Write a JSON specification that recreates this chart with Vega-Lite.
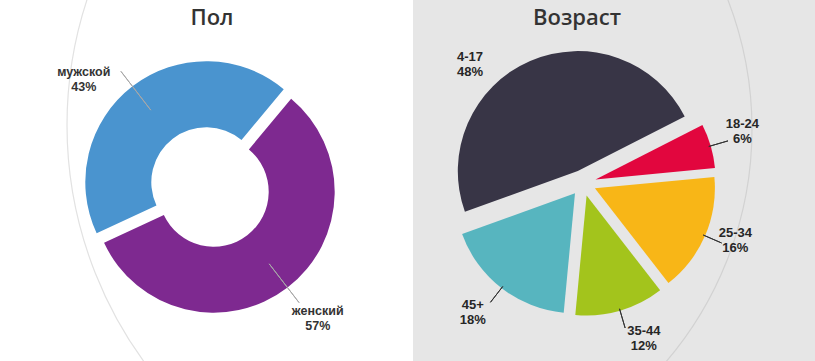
{
  "$schema": "https://vega.github.io/schema/vega-lite/v6.json",
  "background": "#ffffff",
  "padding": 0,
  "spacing": 0,
  "config": {"view": {"stroke": null}, "concat": {"spacing": 0}},
  "hconcat": [
    {
      "width": 413,
      "height": 361,
      "title": {"text": "Пол", "frame": "group", "anchor": "middle", "offset": -30, "dx": 5.5, "fontSize": 22, "font": "Open Sans", "fontWeight": 600, "color": "#333333"},
      "data": {"values": [
        {"group": "мужской", "value": 43, "ord": 1},
        {"group": "женский", "value": 57, "ord": 2}
      ]},
      "transform": [
        {"stack": "value", "groupby": [], "sort": [{"field": "ord"}], "as": ["v0", "v1"]},
        {"calculate": "(datum.v0 + datum.v1) / 2", "as": "mid"},
        {"calculate": "datum.group + '\\n' + datum.value + '%'", "as": "label"}
      ],
      "layer": [
        {
          "data": {"values": [{"ring": "decor"}]},
          "mark": {"type": "arc", "theta": 0, "theta2": 6.2832, "outerRadius": 402, "filled": false, "stroke": "#e2e2e2", "strokeWidth": 1.2, "clip": true, "xOffset": 262.5, "yOffset": -55.5},
          "encoding": {}
        },
        {
          "transform": [{"filter": "datum.group === 'мужской'"}],
          "mark": {"type": "arc", "innerRadius": 55, "outerRadius": 121, "color": "#4a94cf", "xOffset": -0.2, "yOffset": 1.7},
          "encoding": {
            "theta": {"field": "v0", "type": "quantitative", "scale": {"domain": [0, 100], "range": [4.276, 10.559]}},
            "theta2": {"field": "v1"}
          }
        },
        {
          "transform": [{"filter": "datum.group === 'женский'"}],
          "mark": {"type": "arc", "innerRadius": 55, "outerRadius": 121, "color": "#7e2990", "xOffset": 7.2, "yOffset": 11.2},
          "encoding": {
            "theta": {"field": "v0", "type": "quantitative", "scale": {"domain": [0, 100], "range": [4.276, 10.559]}},
            "theta2": {"field": "v1"}
          }
        },
        {
          "mark": {"type": "arc", "innerRadius": 97, "outerRadius": 146, "filled": false, "stroke": "#a8a8a8", "strokeWidth": 1, "xOffset": 3.5, "yOffset": 6.5},
          "encoding": {
            "theta": {"field": "mid", "type": "quantitative", "stack": null, "scale": {"domain": [0, 100], "range": [4.276, 10.559]}},
            "theta2": {"field": "mid"}
          }
        },
        {
          "transform": [{"filter": "datum.group === 'женский'"}],
          "mark": {"type": "text", "radius": 170, "xOffset": 7.5, "yOffset": -4.5, "lineBreak": "\n", "lineHeight": 15, "font": "Liberation Sans", "fontWeight": "bold", "fontSize": 12.5, "color": "#333333", "align": "center", "baseline": "middle"},
          "encoding": {
            "theta": {"field": "mid", "type": "quantitative", "stack": null, "scale": {"domain": [0, 100], "range": [4.276, 10.559]}},
            "text": {"field": "label"}
          }
        },
        {
          "transform": [{"filter": "datum.group === 'мужской'"}],
          "mark": {"type": "text", "radius": 170, "xOffset": -19, "yOffset": 26.5, "lineBreak": "\n", "lineHeight": 15, "font": "Liberation Sans", "fontWeight": "bold", "fontSize": 12.5, "color": "#333333", "align": "center", "baseline": "middle"},
          "encoding": {
            "theta": {"field": "mid", "type": "quantitative", "stack": null, "scale": {"domain": [0, 100], "range": [4.276, 10.559]}},
            "text": {"field": "label"}
          }
        }
      ]
    },
    {
      "width": 402,
      "height": 361,
      "view": {"fill": "#e6e6e6", "stroke": null},
      "title": {"text": "Возраст", "frame": "group", "anchor": "middle", "offset": -30, "dx": -37, "fontSize": 22, "font": "Open Sans", "fontWeight": 600, "color": "#333333"},
      "data": {"values": [
        {"group": "18-24", "value": 6, "ord": 1},
        {"group": "25-34", "value": 16, "ord": 2},
        {"group": "35-44", "value": 12, "ord": 3},
        {"group": "45+", "value": 18, "ord": 4},
        {"group": "4-17", "value": 48, "ord": 5}
      ]},
      "transform": [
        {"stack": "value", "groupby": [], "sort": [{"field": "ord"}], "as": ["v0", "v1"]},
        {"calculate": "(datum.v0 + datum.v1) / 2", "as": "mid"},
        {"calculate": "datum.group + '\\n' + datum.value + '%'", "as": "label"}
      ],
      "layer": [
        {
          "data": {"values": [{"ring": "decor"}]},
          "mark": {"type": "arc", "theta": 0, "theta2": 6.2832, "outerRadius": 358, "filled": false, "stroke": "#d2d2d2", "strokeWidth": 1.2, "clip": true, "xOffset": -220, "yOffset": -51.5},
          "encoding": {}
        },
        {
          "transform": [{"filter": "datum.group === '18-24'"}],
          "mark": {"type": "arc", "outerRadius": 120, "color": "#e2063e", "xOffset": -18.5, "yOffset": -1.1},
          "encoding": {
            "theta": {"field": "v0", "type": "quantitative", "scale": {"domain": [0, 100], "range": [1.0996, 7.3827]}},
            "theta2": {"field": "v1"}
          }
        },
        {
          "transform": [{"filter": "datum.group === '25-34'"}],
          "mark": {"type": "arc", "outerRadius": 120, "color": "#f8b617", "xOffset": -19.1, "yOffset": 7.7},
          "encoding": {
            "theta": {"field": "v0", "type": "quantitative", "scale": {"domain": [0, 100], "range": [1.0996, 7.3827]}},
            "theta2": {"field": "v1"}
          }
        },
        {
          "transform": [{"filter": "datum.group === '35-44'"}],
          "mark": {"type": "arc", "outerRadius": 120, "color": "#a3c41c", "xOffset": -27.4, "yOffset": 15},
          "encoding": {
            "theta": {"field": "v0", "type": "quantitative", "scale": {"domain": [0, 100], "range": [1.0996, 7.3827]}},
            "theta2": {"field": "v1"}
          }
        },
        {
          "transform": [{"filter": "datum.group === '45+'"}],
          "mark": {"type": "arc", "outerRadius": 120, "color": "#57b5bf", "xOffset": -39, "yOffset": 12.8},
          "encoding": {
            "theta": {"field": "v0", "type": "quantitative", "scale": {"domain": [0, 100], "range": [1.0996, 7.3827]}},
            "theta2": {"field": "v1"}
          }
        },
        {
          "transform": [{"filter": "datum.group === '4-17'"}],
          "mark": {"type": "arc", "outerRadius": 120, "color": "#383546", "xOffset": -36.2, "yOffset": -9.4},
          "encoding": {
            "theta": {"field": "v0", "type": "quantitative", "scale": {"domain": [0, 100], "range": [1.0996, 7.3827]}},
            "theta2": {"field": "v1"}
          }
        },
        {
          "transform": [{"filter": "datum.group !== '4-17'"}],
          "mark": {"type": "arc", "innerRadius": 131, "outerRadius": 151, "filled": false, "stroke": "#333333", "strokeWidth": 1, "xOffset": -31, "yOffset": 2.5},
          "encoding": {
            "theta": {"field": "mid", "type": "quantitative", "stack": null, "scale": {"domain": [0, 100], "range": [1.0996, 7.3827]}},
            "theta2": {"field": "mid"}
          }
        },
        {
          "transform": [{"filter": "datum.group === '18-24'"}],
          "mark": {"type": "text", "radius": 166, "xOffset": -31, "yOffset": 2.5, "dx": 0, "dy": -12.5, "lineBreak": "\n", "lineHeight": 15, "font": "Liberation Sans", "fontWeight": "bold", "fontSize": 13, "color": "#262626", "align": "center", "baseline": "middle"},
          "encoding": {
            "theta": {"field": "mid", "type": "quantitative", "stack": null, "scale": {"domain": [0, 100], "range": [1.0996, 7.3827]}},
            "text": {"field": "label"}
          }
        },
        {
          "transform": [{"filter": "datum.group === '25-34'"}],
          "mark": {"type": "text", "radius": 166, "xOffset": -31, "yOffset": 2.5, "dx": 0, "dy": -15.5, "lineBreak": "\n", "lineHeight": 15, "font": "Liberation Sans", "fontWeight": "bold", "fontSize": 13, "color": "#262626", "align": "center", "baseline": "middle"},
          "encoding": {
            "theta": {"field": "mid", "type": "quantitative", "stack": null, "scale": {"domain": [0, 100], "range": [1.0996, 7.3827]}},
            "text": {"field": "label"}
          }
        },
        {
          "transform": [{"filter": "datum.group === '35-44'"}],
          "mark": {"type": "text", "radius": 166, "xOffset": -31, "yOffset": 2.5, "dx": 14.5, "dy": -11, "lineBreak": "\n", "lineHeight": 15, "font": "Liberation Sans", "fontWeight": "bold", "fontSize": 13, "color": "#262626", "align": "center", "baseline": "middle"},
          "encoding": {
            "theta": {"field": "mid", "type": "quantitative", "stack": null, "scale": {"domain": [0, 100], "range": [1.0996, 7.3827]}},
            "text": {"field": "label"}
          }
        },
        {
          "transform": [{"filter": "datum.group === '45+'"}],
          "mark": {"type": "text", "radius": 166, "xOffset": -31, "yOffset": 2.5, "dx": -8.5, "dy": -9, "lineBreak": "\n", "lineHeight": 15, "font": "Liberation Sans", "fontWeight": "bold", "fontSize": 13, "color": "#262626", "align": "center", "baseline": "middle"},
          "encoding": {
            "theta": {"field": "mid", "type": "quantitative", "stack": null, "scale": {"domain": [0, 100], "range": [1.0996, 7.3827]}},
            "text": {"field": "label"}
          }
        },
        {
          "transform": [{"filter": "datum.group === '4-17'"}],
          "mark": {"type": "text", "radius": 166, "xOffset": -78, "yOffset": 29, "lineBreak": "\n", "lineHeight": 15, "font": "Liberation Sans", "fontWeight": "bold", "fontSize": 13, "color": "#262626", "align": "center", "baseline": "middle"},
          "encoding": {
            "theta": {"field": "mid", "type": "quantitative", "stack": null, "scale": {"domain": [0, 100], "range": [1.0996, 7.3827]}},
            "text": {"field": "label"}
          }
        }
      ]
    }
  ]
}
